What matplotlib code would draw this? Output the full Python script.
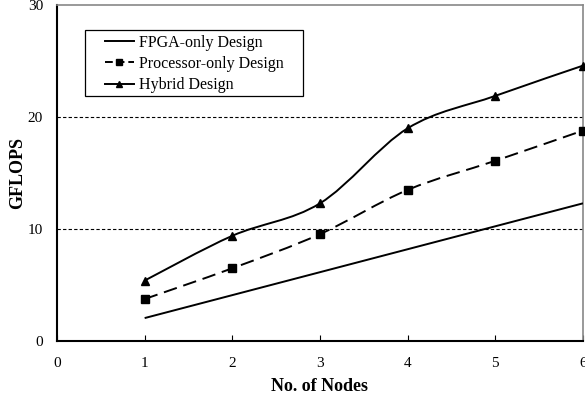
import numpy as np
import matplotlib
matplotlib.use('Agg')
import matplotlib.pyplot as plt
from matplotlib.path import Path
from matplotlib.patches import PathPatch, Rectangle
from matplotlib.lines import Line2D

nodes = [1, 2, 3, 4, 5, 6]
fpga_only = [2.05, 4.1, 6.15, 8.2, 10.25, 12.3]
processor_only = [3.75, 6.5, 9.55, 13.5, 16.1, 18.8]
hybrid = [5.4, 9.4, 12.3, 19.0, 21.9, 24.6]

plt.rcParams['font.family'] = ['Liberation Serif', 'DejaVu Serif']


def smooth_path(xs, ys):
    # Excel-style smoothed line: cubic bezier with 1/6 tangent factor
    p = np.column_stack([xs, ys]).astype(float)
    n = len(p)
    verts = [p[0]]
    codes = [Path.MOVETO]
    for i in range(n - 1):
        p0 = p[i - 1] if i > 0 else p[i]
        p3 = p[i + 2] if i + 2 < n else p[i + 1]
        c1 = p[i] + (p[i + 1] - p0) / 6.0
        c2 = p[i + 1] - (p3 - p[i]) / 6.0
        verts += [c1, c2, p[i + 1]]
        codes += [Path.CURVE4] * 3
    return Path(verts, codes)


fig = plt.figure(figsize=(5.85, 3.97), dpi=100)
ax = fig.add_axes([0.0974, 0.141, 0.8992, 0.846])

series = [
    ('FPGA-only Design', fpga_only, '-', None),
    ('Processor-only Design', processor_only, (0, (7, 3.5)), 's'),
    ('Hybrid Design', hybrid, '-', '^'),
]

handles = []
for label, vals, ls, mk in series:
    patch = PathPatch(smooth_path(nodes, vals), facecolor='none',
                      edgecolor='black', lw=1.4, linestyle=ls, zorder=3)
    ax.add_patch(patch)
    if mk is not None:
        ax.plot(nodes, vals, linestyle='none', marker=mk, color='black',
                markersize=5.5, zorder=4, clip_on=False)
    handles.append(Line2D([], [], color='black', lw=1.4,
                          linestyle=(0, (4, 2)) if mk == 's' else ls,
                          marker=mk, markersize=5))

ax.set_xlim(0, 6)
ax.set_ylim(0, 30)
ax.set_xticks(range(0, 7))
ax.set_yticks([0, 10, 20, 30])
for y in [10, 20]:
    ax.axhline(y, color='black', lw=0.8, linestyle=(0, (3, 2)), zorder=1)

ax.tick_params(axis='x', direction='in', length=4, labelsize=11, pad=11.5)
ax.tick_params(axis='y', direction='out', length=0, labelsize=11, pad=10)
for s in ['left', 'bottom']:
    ax.spines[s].set_linewidth(1.5)
for s in ['top', 'right']:
    ax.spines[s].set_color('#888888')
    ax.spines[s].set_linewidth(1.2)

ax.set_xlabel('No. of Nodes', fontsize=13, fontweight='bold', labelpad=6)
ax.set_ylabel('GFLOPS', fontsize=13, fontweight='bold', labelpad=1)

# legend box drawn separately so the side padding can differ from the top one
ax.add_patch(Rectangle((0.0532, 0.729), 0.4145, 0.1966, transform=ax.transAxes,
                       facecolor='white', edgecolor='black', lw=0.9, zorder=5))
leg = ax.legend(handles, [s[0] for s in series], loc='upper left',
                bbox_to_anchor=(0.0913, 0.912), fontsize=11.5, frameon=False,
                handlelength=1.8, handletextpad=0.3, borderpad=0,
                labelspacing=0.33, borderaxespad=0)
leg.set_zorder(6)

fig.savefig('out.png', dpi=100)
